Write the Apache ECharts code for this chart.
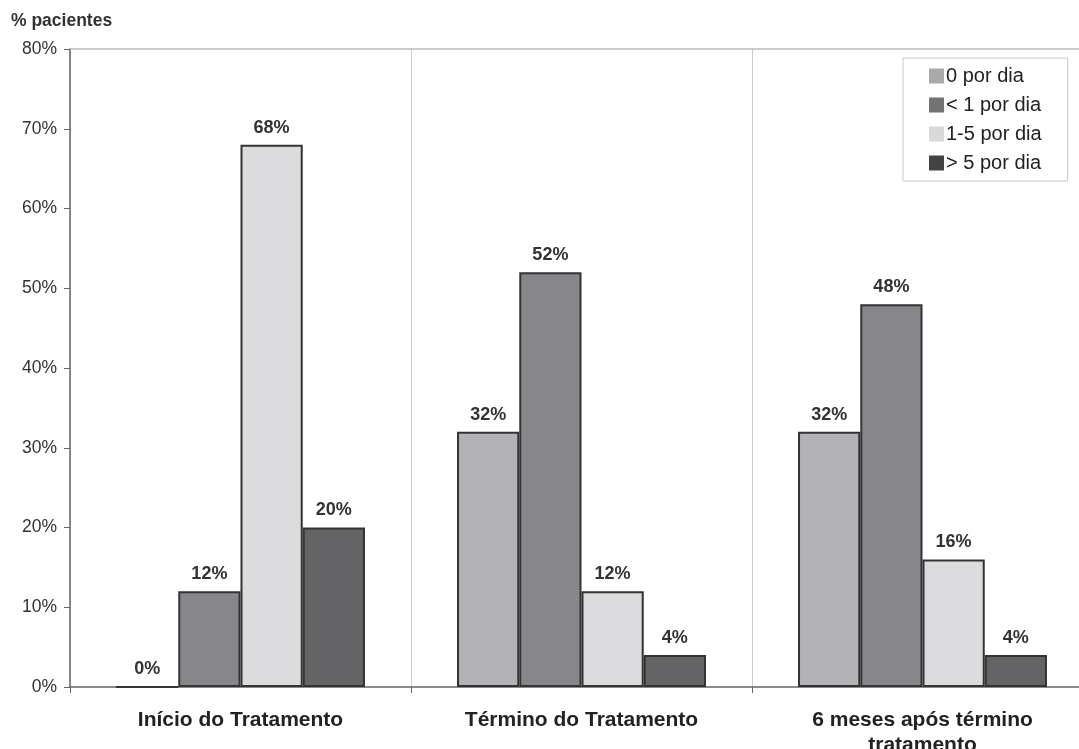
<!DOCTYPE html>
<html><head><meta charset="utf-8">
<script src="https://cdn.jsdelivr.net/npm/echarts@6/dist/echarts.min.js"></script>
<style>html,body{margin:0;padding:0;background:#fff}#c{width:1079px;height:749px}</style>
</head><body><div id="c"></div>
<script>
const categories = ['Início do Tratamento', 'Término do Tratamento', '6 meses após término\ntratamento'];
const seriesNames = ['0 por dia', '< 1 por dia', '1-5 por dia', '> 5 por dia'];
const zeroPorDia = [0, 32, 32];
const menosUm = [12, 52, 48];
const umACinco = [68, 12, 16];
const maisCinco = [20, 4, 4];
const yTicks = [0, 10, 20, 30, 40, 50, 60, 70, 80];

const barColors = ['#b3b3b7', '#87878b', '#dcdcde', '#646466'];
const legendColors = ['#a9a9a9', '#737373', '#d9d9d9', '#434343'];
const values = [zeroPorDia, menosUm, umACinco, maisCinco];

const chart = echarts.init(document.getElementById('c'));
chart.setOption({
  animation: false,
  backgroundColor: '#fff',
  textStyle: { fontFamily: 'Liberation Sans, Arial, sans-serif' },
  title: {
    text: '% pacientes', left: 11, top: 12, padding: 0,
    textStyle: { fontSize: 17.5, fontWeight: 'bold', color: '#333' }
  },
  legend: {
    orient: 'vertical', left: 903, top: 58,
    padding: [8, 26, 8, 26],
    itemWidth: 15, itemHeight: 15, itemGap: 9,
    borderColor: '#c8c8c8', borderWidth: 1,
    icon: 'rect',
    textStyle: { fontSize: 20, color: '#222', padding: [0, 0, 0, -3] },
    data: seriesNames.map((n, i) => ({ name: n, itemStyle: { color: legendColors[i], borderWidth: 0 } }))
  },
  grid: { left: 70, top: 49, right: -14, bottom: 62, containLabel: false, outerBoundsMode: 'none' },
  xAxis: {
    type: 'category', data: categories,
    axisLine: { show: true, lineStyle: { color: '#666', width: 1.5 } },
    axisTick: { show: true, length: 6, lineStyle: { color: '#666' } },
    splitLine: { show: true, lineStyle: { color: '#cccccc', width: 1 } },
    axisLabel: { fontSize: 21, fontWeight: 'bold', color: '#222', margin: 21, lineHeight: 25 }
  },
  yAxis: {
    type: 'value', min: 0, max: 80, interval: 10,
    axisLine: { show: true, lineStyle: { color: '#666', width: 1.5 } },
    axisTick: { show: true, length: 6, inside: false, lineStyle: { color: '#666' } },
    splitLine: { show: false },
    axisLabel: { fontSize: 17.5, color: '#333', margin: 13, formatter: v => yTicks.includes(v) ? v + '%' : '' }
  },
  series: seriesNames.map((n, i) => ({
    name: n, type: 'bar', data: values[i],
    barGap: '0%', barCategoryGap: '27%',
    itemStyle: { color: barColors[i], borderColor: '#333', borderWidth: 2 },
    label: { show: true, position: 'top', distance: 8, formatter: '{c}%', fontSize: 18, fontWeight: 'bold', color: '#333' },
    markLine: i === 0 ? {
      silent: true, symbol: 'none', label: { show: false },
      lineStyle: { color: '#bbb', type: 'solid', width: 1.5 },
      data: [{ yAxis: 80 }]
    } : undefined
  }))
});
</script></body></html>
